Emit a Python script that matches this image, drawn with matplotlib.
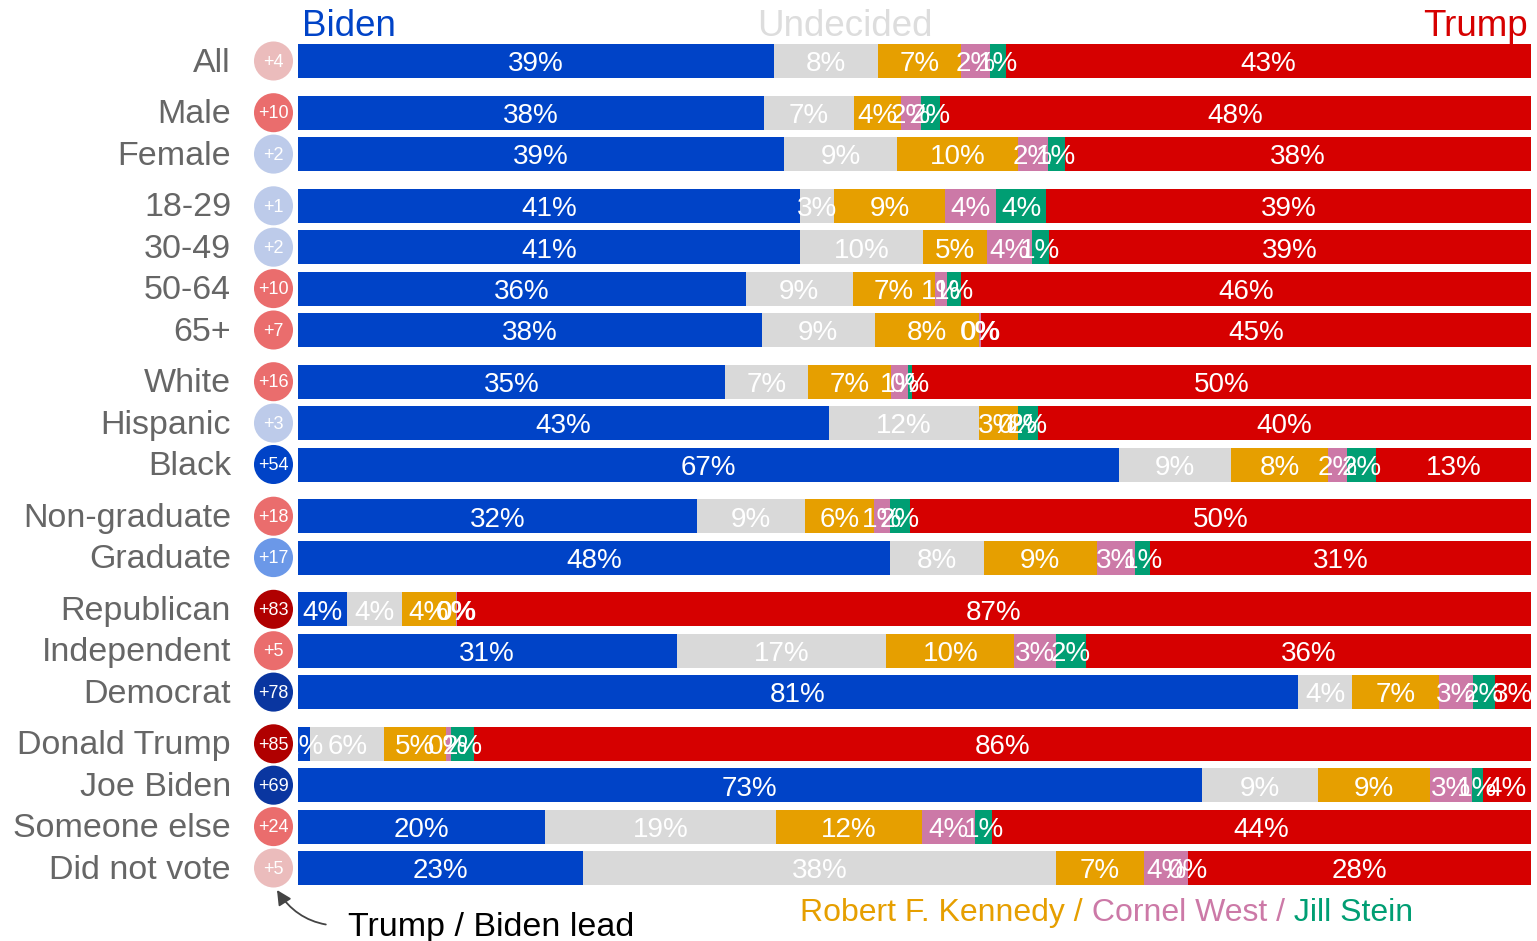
import numpy as np
import matplotlib
matplotlib.use("Agg")
import matplotlib.pyplot as plt

plt.rcParams['font.family'] = ['Liberation Sans', 'DejaVu Sans']

# rows of the chart, top to bottom, and the block each one belongs to
rows = ["All", "Male", "Female", "18-29", "30-49", "50-64", "65+",
        "White", "Hispanic", "Black", "Non-graduate", "Graduate",
        "Republican", "Independent", "Democrat",
        "Donald Trump", "Joe Biden", "Someone else", "Did not vote"]
block = [0, 1, 1, 2, 2, 2, 2, 3, 3, 3, 4, 4, 5, 5, 5, 6, 6, 6, 6]

# vote shares in percent
biden = [38.6, 37.8, 39.4, 40.7, 40.7, 36.3, 37.6, 34.6, 43.1, 66.6,
         32.4, 48.0, 4.0, 30.7, 81.1, 1.0, 73.3, 20.0, 23.1]
undecided = [8.4, 7.3, 9.2, 2.8, 10.0, 8.7, 9.2, 6.8, 12.1, 9.1,
             8.7, 7.6, 4.4, 17.0, 4.4, 6.0, 9.4, 18.8, 38.4]
kennedy = [6.8, 3.8, 9.8, 9.0, 5.2, 6.7, 8.4, 6.7, 3.2, 7.8,
           5.6, 9.2, 4.4, 10.4, 7.0, 5.0, 9.1, 11.8, 7.1]
west = [2.3, 1.6, 2.4, 4.1, 3.6, 0.9, 0.2, 1.4, 0.0, 1.6,
        1.3, 3.1, 0.1, 3.4, 2.8, 0.4, 3.4, 4.3, 3.6]
stein = [1.3, 1.6, 1.4, 4.1, 1.4, 1.2, 0.0, 0.3, 1.6, 2.3,
         1.6, 1.2, 0.0, 2.4, 1.8, 1.9, 0.9, 1.4, 0.0]
trump = [42.6, 47.9, 37.8, 39.3, 39.1, 46.2, 44.6, 50.2, 40.0, 12.6,
         50.4, 30.9, 87.1, 36.1, 2.9, 85.7, 3.9, 43.7, 27.8]

# shade of the lead bubble (0 = faint ... 3 = strongest)
lead_shade = [0, 1, 0, 0, 0, 1, 1, 1, 0, 2, 1, 1, 3, 1, 3, 3, 3, 1, 0]

BLUE = "#0043c7"
RED = "#d60000"
seg_colors = [BLUE, "#d9d9d9", "#e69f00", "#cc79a7", "#009e73", RED]
red_shades = ["#ebbcbc", "#ea6d6d", "#c81414", "#b00000"]
blue_shades = ["#bdcbea", "#6b98e8", "#0043c7", "#0a36a0"]

# layout: 0..100 % maps to x pixels 298..1531, one row is 41.4 px
px_per_pct = 1233 / 100
row_px = 41.4
gap = 10.3 / row_px
bar_h = 34 / row_px


def xpx(px):
    return (px - 298) / px_per_pct


def ypx(px):
    return (px - 61) / row_px


fig = plt.figure(figsize=(15.37, 9.41), dpi=100)
ax = fig.add_axes([0, 0, 1, 1])
ax.set_xlim(xpx(0), xpx(1537))
ax.set_ylim(ypx(941), ypx(0))
ax.axis('off')

pos = np.arange(len(rows)) + np.array(block) * gap
series = [biden, undecided, kennedy, west, stein, trump]

left = np.zeros(len(rows))
mids = []
for vals, col in zip(series, seg_colors):
    vals = np.array(vals)
    ax.barh(pos, vals, left=left, height=bar_h, color=col, zorder=2)
    mids.append((left + vals / 2, vals))
    left = left + vals

for centers, vals in mids:
    for y, x, v in zip(pos, centers, vals):
        ax.text(x, y + 0.08, f"{v:.0f}%", ha='center', va='center',
                fontsize=20, color='white', zorder=3)

# row names and lead bubbles
for y, name in zip(pos, rows):
    ax.text(xpx(231), y + 0.05, name, ha='right', va='center', fontsize=24.5,
            color='#666666')

lead = np.array(trump) - np.array(biden)
bub_colors = [red_shades[s] if d > 0 else blue_shades[s]
              for d, s in zip(lead, lead_shade)]
ax.scatter(np.full(len(rows), xpx(273.5)), pos, s=790, c=bub_colors,
           linewidths=0, zorder=4)
for y, d in zip(pos, lead):
    ax.text(xpx(273.5), y + 0.03, f"+{abs(d):.0f}", ha='center', va='center',
            fontsize=13, color='white', zorder=5)

# header
hy = ypx(26)
ax.text(xpx(302), hy, "Biden", ha='left', va='center', fontsize=26.5, color=BLUE)
ax.text(xpx(845), hy, "Undecided", ha='center', va='center', fontsize=26.5,
        color='#dddddd')
ax.text(xpx(1528), hy, "Trump", ha='right', va='center', fontsize=26.5, color=RED)

# third-party legend, one text per colour
t = ax.text(xpx(800), ypx(913), "Robert F. Kennedy /", ha='left', va='center',
            fontsize=23, color=seg_colors[2])
t = ax.annotate(" Cornel West /", xy=(1, 0), xycoords=t, va='bottom',
                fontsize=23, color=seg_colors[3])
ax.annotate(" Jill Stein", xy=(1, 0), xycoords=t, va='bottom',
            fontsize=23, color=seg_colors[4])

# note pointing at the bubbles
ax.annotate("Trump / Biden lead", xy=(xpx(277), ypx(890)),
            xytext=(xpx(348), ypx(927)), ha='left', va='center',
            fontsize=24.5, color='black',
            arrowprops=dict(arrowstyle='-|>', color='#444444', lw=1.3,
                            mutation_scale=22, shrinkA=14, shrinkB=0,
                            relpos=(0, 0.55),
                            connectionstyle='arc3,rad=-0.3'))

fig.savefig("out.png", dpi=100)
